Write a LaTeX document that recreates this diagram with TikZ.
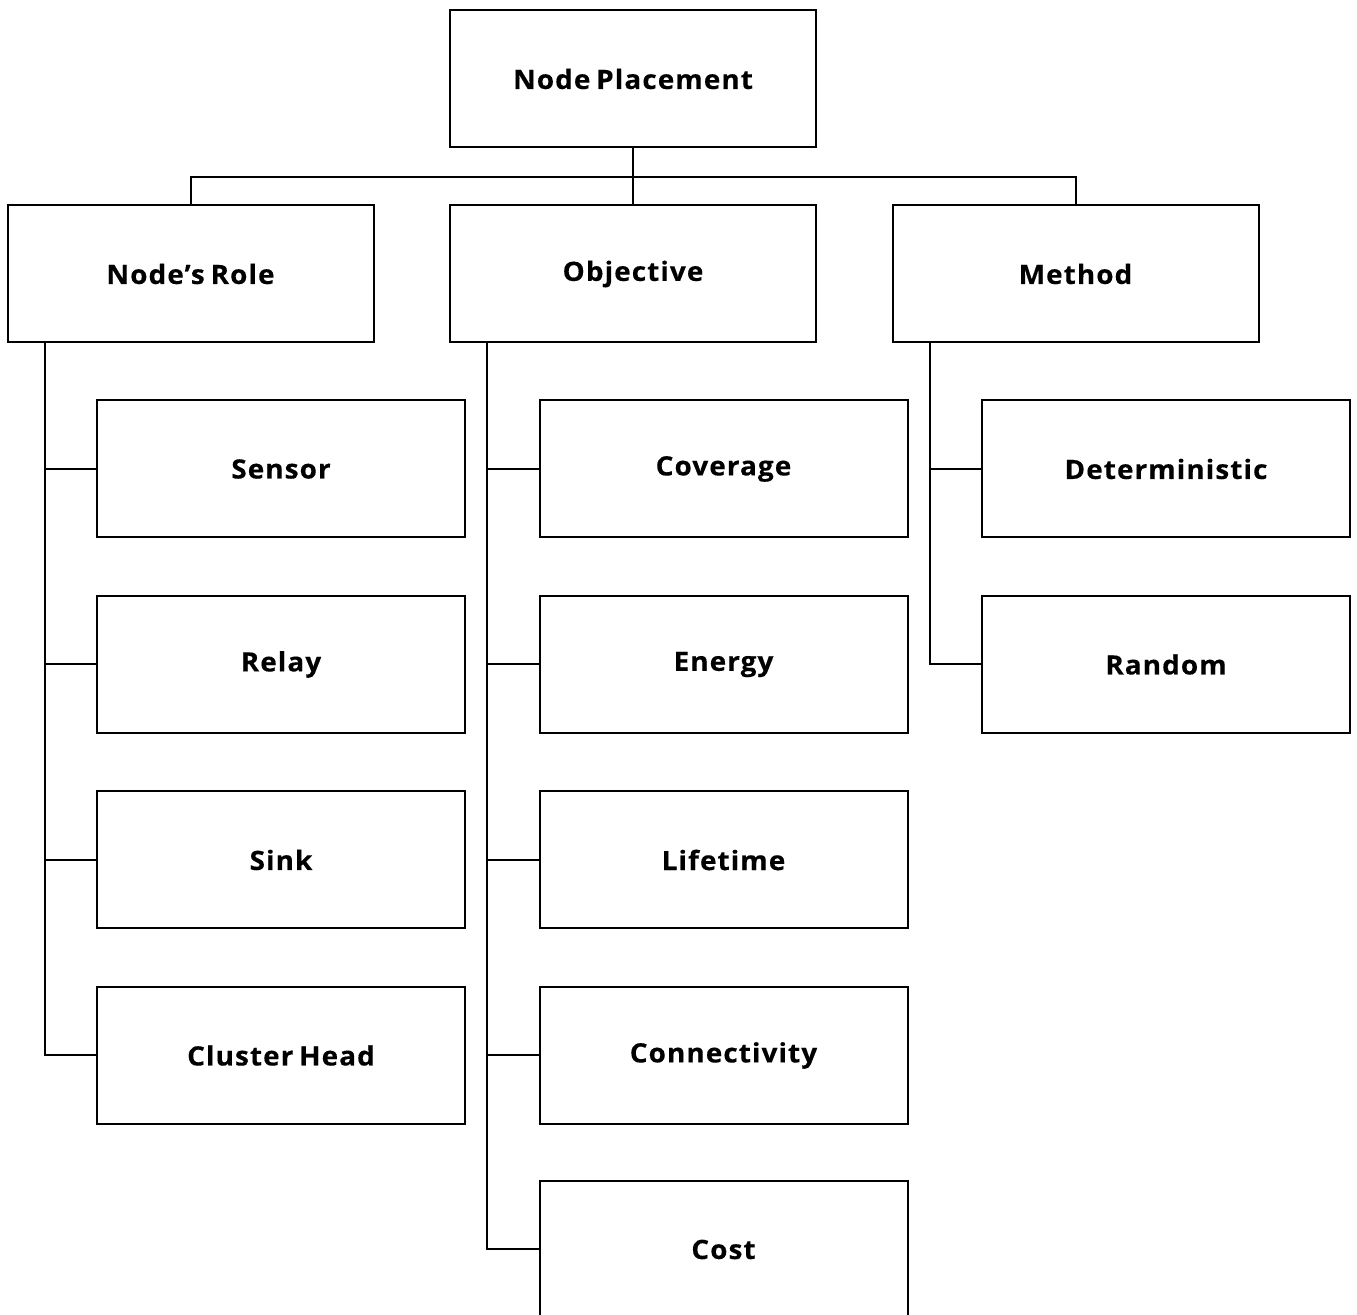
\documentclass[tikz,border=0pt]{standalone}
\usepackage{fontspec}
\setmainfont{Open Sans}[LetterSpace=4,Ligatures={NoCommon},WordSpace={0.7},BoldFeatures={FakeStretch=1.05,FakeBold=0.3}]
\begin{document}
\begin{tikzpicture}[x=0.5pt,y=-0.5pt,
  box/.style={draw=black,line width=1pt,fill=white,minimum width=183pt,minimum height=68.5pt,inner sep=0pt,font=\fontsize{13.3}{15}\selectfont\bfseries},
  conn/.style={draw=black,line width=1pt}]
\clip (0,0) rectangle (1357,1315);
\fill[white] (0,0) rectangle (1357,1315);
% top
\node[box] (np) at (633,79) {Node Placement};
% level 2
\node[box] (role) at (190.5,274) {Node’s Role};
\node[box] (obj) at (633,274) {Objective};
\node[box] (meth) at (1075.5,274) {Method};
% role children
\node[box,minimum width=184pt] (sensor) at (281,469) {Sensor};
\node[box,minimum width=184pt] (relay) at (281,664.5) {Relay};
\node[box,minimum width=184pt] (sink) at (281,860) {Sink};
\node[box,minimum width=184pt] (ch) at (281,1055.5) {Cluster Head};
% objective children
\node[box,minimum width=184pt] (cov) at (723.5,469) {Coverage};
\node[box,minimum width=184pt] (en) at (723.5,664.5) {Energy};
\node[box,minimum width=184pt] (life) at (723.5,860) {Lifetime};
\node[box,minimum width=184pt] (con) at (723.5,1055.5) {Connectivity};
\node[box,minimum width=184pt] (cost) at (723.5,1249.5) {Cost};
% method children
\node[box,minimum width=184pt] (det) at (1166,469) {Deterministic};
\node[box,minimum width=184pt] (rand) at (1166,664.5) {Random};
% top connectors
\coordinate (bus) at (633,177);
\draw[conn] (np.south) -- (bus);
\draw[conn] (role.north) |- (bus) -| (meth.north);
\draw[conn] (bus) -- (obj.north);
% role spine
\coordinate (rs) at (45,343);
\draw[conn] (rs) |- (ch.west);
\draw[conn] (sensor.west) -- (sensor.west -| rs);
\draw[conn] (relay.west) -- (relay.west -| rs);
\draw[conn] (sink.west) -- (sink.west -| rs);
% objective spine
\coordinate (os) at (487,343);
\draw[conn] (os) |- (cost.west);
\draw[conn] (cov.west) -- (cov.west -| os);
\draw[conn] (en.west) -- (en.west -| os);
\draw[conn] (life.west) -- (life.west -| os);
\draw[conn] (con.west) -- (con.west -| os);
% method spine
\coordinate (ms) at (930,343);
\draw[conn] (ms) |- (rand.west);
\draw[conn] (det.west) -- (det.west -| ms);
\end{tikzpicture}
\end{document}
